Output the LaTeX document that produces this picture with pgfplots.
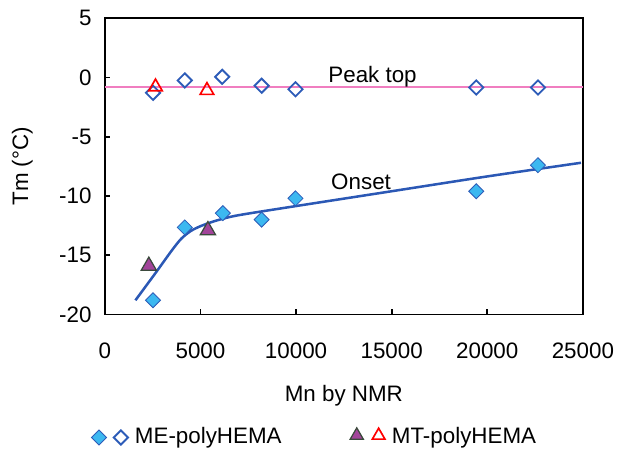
\documentclass[border=0pt]{standalone}
\usepackage{pgfplots}
\pgfplotsset{compat=1.18}
\usepackage{fontspec}
\setmainfont{Liberation Sans}

\definecolor{fillblue}{HTML}{3CB8F0}
\definecolor{edgeblue}{HTML}{2D5CB8}
\definecolor{triPurple}{HTML}{A2449A}
\definecolor{triEdge}{HTML}{3B4A3C}
\definecolor{peakpink}{HTML}{F07EC0}
\definecolor{curveblue}{HTML}{2B58B5}

\begin{document}
\begin{tikzpicture}
\fontsize{16}{19.2}\selectfont
\useasboundingbox (-75pt,-96pt) rectangle (385pt,225pt);
\begin{axis}[
    at={(0,0)}, anchor=south west,
    scale only axis,
    width=342pt, height=212pt,
    xmin=0, xmax=25000,
    ymin=-20, ymax=5,
    xtick={0,5000,10000,15000,20000,25000},
    ytick={-20,-15,-10,-5,0,5},
    scaled x ticks=false,
    xticklabel style={/pgf/number format/1000 sep={}},
    /pgf/number format/assume math mode=true,
    tick label style={font=\fontsize{16}{19.2}\selectfont},
    label style={font=\fontsize{16}{19.2}\selectfont},
    tick align=inside,
    xtick pos=bottom, ytick pos=left,
    major tick length=4pt,
    tick style={black, line width=1.2pt},
    axis line style={black, line width=1.4pt},
    xlabel={Mn by NMR},
    ylabel={Tm (°C)},
    xticklabel shift=15pt,
    yticklabel shift=4pt,
    xlabel style={yshift=-8pt},
    ylabel style={yshift=8pt},
    clip=false,
    legend style={at={(0.44,-0.415)}, anchor=center, draw=none, fill=none,
        legend columns=2, column sep=3pt, font=\fontsize{16}{19.2}\selectfont,
        /tikz/every even column/.append style={column sep=47pt}},
    legend cell align=left,
]

% peak top reference line
\addplot[peakpink, line width=1.5pt, forget plot] coordinates {(0,-0.8) (25000,-0.8)};

% onset trend curve
\addplot[curveblue, line width=1.8pt, smooth, tension=0.5, forget plot] coordinates {
    (1600,-18.8) (2650,-16.5) (3500,-14.6) (4000,-13.6) (4500,-12.95)
    (5000,-12.55) (5500,-12.25) (6000,-12.0) (7000,-11.62) (10000,-10.85)
    (15000,-9.6) (20000,-8.35) (24900,-7.2)
};

% ME-polyHEMA onset (filled)
\addplot[only marks, mark=square*, mark size=3.8pt,
    mark options={rotate=45, fill=fillblue, draw=edgeblue, line width=0.6pt}, forget plot]
    coordinates {
    (2520,-18.8) (4180,-12.65) (6170,-11.45) (8200,-12.0) (9970,-10.2)
    (19420,-9.6) (22650,-7.4)
};

% ME-polyHEMA peak top (open)
\addplot[only marks, mark=square, mark size=3.6pt,
    mark options={rotate=45, draw=edgeblue, line width=1.3pt}, forget plot]
    coordinates {
    (2520,-1.3) (4180,-0.25) (6140,0.05) (8200,-0.7) (9970,-1.0)
    (19420,-0.85) (22650,-0.85)
};

% MT-polyHEMA onset (filled)
\addplot[only marks, mark=triangle*, mark size=6.3pt,
    mark options={fill=triPurple, draw=triEdge, line width=0.9pt}, forget plot]
    coordinates {(2300,-15.9) (5390,-12.9)};

% MT-polyHEMA peak top (open)
\addplot[only marks, mark=triangle, mark size=5.6pt,
    mark options={draw=red, line width=1.2pt}, forget plot]
    coordinates {(2650,-0.8) (5340,-1.1)};

\node at (axis cs:14000,0.1) {Peak top};
\node at (axis cs:13400,-8.8) {Onset};

\addlegendimage{legend image code/.code={
    \draw[mark=square*, mark size=3.8pt, mark options={rotate=45, fill=fillblue, draw=edgeblue, line width=0.6pt}]
        plot coordinates {(0cm,0cm)};
    \draw[mark=square, mark size=3.6pt, mark options={rotate=45, draw=edgeblue, line width=1.3pt}]
        plot coordinates {(0.55cm,0cm)};
}}
\addlegendentry{ME-polyHEMA}
\addlegendimage{legend image code/.code={
    \draw[mark=triangle*, mark size=5.5pt, mark options={fill=triPurple, draw=triEdge, line width=0.9pt}]
        plot coordinates {(0cm,0.05cm)};
    \draw[mark=triangle, mark size=5.2pt, mark options={draw=red, line width=1.2pt}]
        plot coordinates {(0.55cm,0.05cm)};
}}
\addlegendentry{MT-polyHEMA}
\end{axis}
\end{tikzpicture}
\end{document}
